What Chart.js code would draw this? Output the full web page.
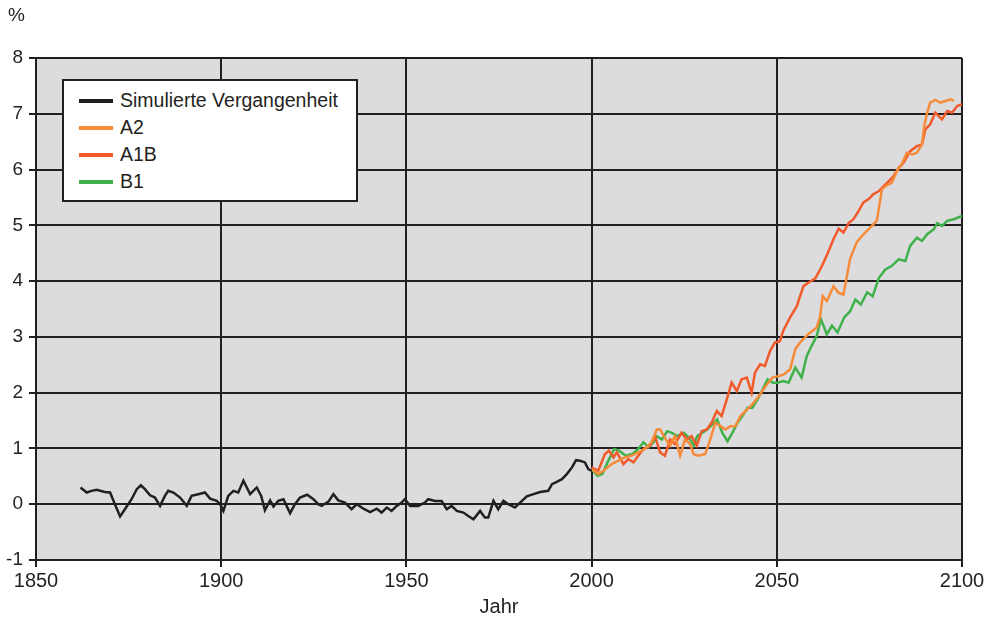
<!DOCTYPE html>
<html lang="de">
<head>
    <meta charset="UTF-8">
    <title>Simulierte Vergangenheit und Szenarien</title>
    <script src="https://cdn.jsdelivr.net/npm/chart.js"></script>
    <style>
        body { margin: 0; background: #fff; font-family: "Liberation Sans", Arial, sans-serif; }
        #wrap { position: relative; width: 991px; height: 622px; }
        #unit { position: absolute; left: 8px; top: 4px; font-size: 19px; color: #231f20; }
        #legend {
            position: absolute; left: 62px; top: 79px; width: 292px; height: 113px;
            background: #fff; border: 2px solid #231f20; padding-top: 6px; box-sizing: content-box;
        }
        .row { display: flex; align-items: center; height: 27px; font-size: 19.5px; color: #231f20; }
        .swatch { width: 34px; height: 4px; margin: 0 7px 0 15px; }
    </style>
</head>
<body>
<div id="wrap">
    <canvas id="chart" width="991" height="622"></canvas>
    <div id="unit">%</div>
    <div id="legend"></div>
</div>

<script>
    // Simulierte Vergangenheit (Jahr, %)
    const pastYears = [1862, 1863.7, 1865, 1866.4, 1868.6, 1870, 1871.3, 1872.7, 1874, 1875.8, 1877.2, 1878.3, 1879.4, 1880.8, 1882.1, 1883.5, 1884.8, 1885.7, 1887.1, 1888.9, 1890.7, 1892, 1893.8, 1895.6, 1897, 1898.8, 1899.7, 1900.6, 1901.9, 1903.3, 1904.6, 1906, 1907.8, 1909.6, 1910.8, 1911.8, 1913.2, 1914.1, 1915.4, 1916.8, 1918.6, 1919.9, 1921.3, 1923.2, 1924.9, 1926.2, 1927.1, 1929, 1930.3, 1931.6, 1933.4, 1935.2, 1936.6, 1938.4, 1940.2, 1942, 1943.3, 1944.7, 1946, 1947.4, 1948.7, 1949.6, 1951, 1953.2, 1955, 1955.9, 1957.7, 1959.5, 1960.9, 1962.2, 1963.6, 1965.4, 1966.7, 1968.1, 1969.9, 1971.2, 1972.1, 1973.5, 1974.8, 1976.2, 1977.5, 1979.3, 1980.7, 1982.5, 1984.3, 1986.1, 1988.3, 1989.3, 1990.6, 1992, 1993.3, 1994.7, 1995.8, 1996.9, 1998.2, 1999.1, 2000];
    const pastValues = [0.30, 0.21, 0.24, 0.26, 0.22, 0.21, 0.00, -0.22, -0.09, 0.09, 0.27, 0.34, 0.27, 0.16, 0.12, -0.03, 0.15, 0.24, 0.21, 0.12, -0.03, 0.15, 0.18, 0.21, 0.10, 0.06, 0.00, -0.12, 0.15, 0.24, 0.21, 0.42, 0.18, 0.30, 0.15, -0.11, 0.07, -0.04, 0.06, 0.09, -0.16, 0.00, 0.12, 0.17, 0.09, 0.00, -0.03, 0.05, 0.18, 0.07, 0.03, -0.09, 0.00, -0.08, -0.14, -0.08, -0.15, -0.06, -0.12, -0.03, 0.03, 0.09, -0.03, -0.03, 0.03, 0.09, 0.06, 0.06, -0.09, -0.03, -0.12, -0.15, -0.21, -0.27, -0.12, -0.24, -0.24, 0.06, -0.09, 0.06, 0.00, -0.06, 0.03, 0.14, 0.18, 0.22, 0.24, 0.36, 0.40, 0.45, 0.54, 0.66, 0.79, 0.78, 0.75, 0.63, 0.60];

    // Szenario A2
    const a2Years = [2000, 2001.8, 2003.2, 2005.4, 2007.2, 2009, 2010.8, 2012.6, 2014.4, 2016.2, 2017.6, 2018.5, 2019.8, 2021.2, 2022.5, 2023.9, 2025.2, 2026.6, 2027.5, 2028.8, 2030.7, 2032, 2033.4, 2034.8, 2036.1, 2037.5, 2038.8, 2040.2, 2042, 2043.4, 2045.2, 2047, 2048.8, 2050.6, 2052, 2053.6, 2055, 2056.3, 2058.5, 2060.8, 2061.7, 2062.4, 2063.5, 2065.3, 2066.7, 2068, 2069.8, 2071.6, 2073.4, 2075.2, 2077, 2078.4, 2079.7, 2081, 2082.4, 2083.7, 2085.1, 2086.5, 2087.8, 2089.2, 2089.8, 2090.6, 2091.4, 2092.8, 2094.1, 2095.5, 2096.9, 2097.8];
    const a2Values = [0.63, 0.54, 0.60, 0.72, 0.78, 0.84, 0.87, 0.93, 0.99, 1.11, 1.34, 1.34, 1.19, 1.05, 1.22, 0.87, 1.16, 1.08, 0.90, 0.87, 0.90, 1.16, 1.46, 1.40, 1.34, 1.40, 1.40, 1.58, 1.70, 1.79, 1.94, 2.12, 2.27, 2.30, 2.33, 2.42, 2.78, 2.90, 3.05, 3.17, 3.37, 3.73, 3.64, 3.91, 3.79, 3.76, 4.40, 4.70, 4.84, 4.96, 5.08, 5.65, 5.72, 5.76, 5.97, 6.09, 6.30, 6.27, 6.30, 6.45, 6.78, 7.02, 7.20, 7.25, 7.20, 7.23, 7.26, 7.23];

    // Szenario A1B
    const a1bYears = [2000, 2001.8, 2003.6, 2004.7, 2005.9, 2006.8, 2008.6, 2009.9, 2011.3, 2012.6, 2014, 2015.8, 2017.1, 2018.5, 2019.8, 2021.2, 2022.5, 2024.3, 2025.7, 2027, 2028.4, 2029.7, 2031.1, 2032.4, 2033.8, 2035.1, 2036.5, 2037.8, 2039.2, 2040.5, 2041.9, 2043.2, 2044.1, 2045.5, 2046.8, 2048.2, 2049.5, 2050.8, 2051.8, 2053.6, 2055.4, 2057.2, 2058.5, 2060.4, 2062.2, 2064, 2065.3, 2066.7, 2068, 2069.4, 2070.7, 2072.1, 2073.4, 2074.8, 2076.1, 2077.5, 2078.8, 2080.2, 2081.5, 2082.9, 2084.2, 2086, 2087.8, 2089.2, 2090.1, 2091.4, 2092.8, 2093.7, 2094.6, 2096, 2097.3, 2098.7, 2100];
    const a1bValues = [0.66, 0.60, 0.90, 0.96, 0.84, 0.93, 0.72, 0.81, 0.75, 0.87, 0.99, 1.05, 1.22, 0.93, 0.87, 1.16, 1.08, 1.28, 1.16, 1.22, 1.05, 1.31, 1.34, 1.46, 1.67, 1.58, 1.88, 2.18, 2.03, 2.24, 2.27, 2.00, 2.36, 2.51, 2.48, 2.75, 2.90, 2.92, 3.12, 3.35, 3.55, 3.91, 3.97, 4.05, 4.27, 4.54, 4.75, 4.94, 4.87, 5.04, 5.11, 5.26, 5.41, 5.47, 5.56, 5.61, 5.70, 5.79, 5.88, 6.03, 6.12, 6.33, 6.42, 6.45, 6.72, 6.81, 7.02, 6.96, 6.90, 7.05, 7.02, 7.14, 7.17];

    // Szenario B1
    const b1Years = [2000, 2001.6, 2002.9, 2004.3, 2006.1, 2007.4, 2009.2, 2011, 2012.6, 2014, 2015.4, 2016.7, 2017.6, 2019, 2020.4, 2021.7, 2023.1, 2024.9, 2026.3, 2027.6, 2028.5, 2029.9, 2031.2, 2032.6, 2033.9, 2035.3, 2036.7, 2038, 2039.4, 2040.7, 2042.1, 2043.4, 2044.8, 2046.2, 2047.5, 2048.9, 2050.2, 2051.8, 2053.2, 2055, 2056.7, 2058.1, 2059.4, 2060.8, 2061.9, 2063.5, 2064.9, 2066.4, 2068.2, 2069.8, 2071.2, 2072.7, 2074.4, 2075.9, 2077.5, 2079.3, 2081, 2082.9, 2084.7, 2086, 2087.8, 2089.2, 2090.6, 2092.4, 2093.3, 2094.6, 2096, 2097.8, 2100];
    const b1Values = [0.63, 0.51, 0.54, 0.75, 0.99, 0.96, 0.87, 0.90, 0.99, 1.11, 1.02, 1.11, 1.22, 1.16, 1.31, 1.28, 1.22, 1.28, 1.19, 1.05, 1.22, 1.28, 1.34, 1.43, 1.52, 1.28, 1.13, 1.28, 1.46, 1.58, 1.73, 1.73, 1.88, 2.06, 2.24, 2.18, 2.18, 2.21, 2.18, 2.45, 2.27, 2.66, 2.84, 3.02, 3.32, 3.05, 3.20, 3.08, 3.35, 3.46, 3.67, 3.58, 3.80, 3.73, 4.05, 4.21, 4.27, 4.39, 4.36, 4.63, 4.78, 4.72, 4.84, 4.93, 5.04, 4.99, 5.08, 5.11, 5.17];

    const seriesNames = ['Simulierte Vergangenheit', 'A2', 'A1B', 'B1'];
    const seriesColors = ['#231f20', '#f68b3a', '#f15a2b', '#3fb14b'];

    const ink = '#231f20';
    const fontFamily = '"Liberation Sans", Arial, sans-serif';

    function toPoints(xs, ys) {
        return xs.map((x, i) => ({ x: x, y: ys[i] }));
    }

    // grauer Hintergrund nur im Plotbereich
    const plotBackground = {
        id: 'plotBackground',
        beforeDraw(chart) {
            const a = chart.chartArea;
            const ctx = chart.ctx;
            ctx.save();
            ctx.fillStyle = '#dcdcde';
            ctx.fillRect(a.left, a.top, a.right - a.left, a.bottom - a.top);
            ctx.restore();
        }
    };

    const allSeries = [
        toPoints(pastYears, pastValues),
        toPoints(a2Years, a2Values),
        toPoints(a1bYears, a1bValues),
        toPoints(b1Years, b1Values)
    ];

    new Chart(document.getElementById('chart'), {
        type: 'line',
        data: {
            datasets: allSeries.map((pts, i) => ({
                label: seriesNames[i],
                data: pts,
                borderColor: seriesColors[i],
                borderWidth: 2.5,
                pointRadius: 0,
                tension: 0,
                fill: false
            }))
        },
        options: {
            responsive: false,
            animation: false,
            devicePixelRatio: 1,
            layout: { padding: { top: 58, right: 29, left: 0, bottom: 0 } },
            plugins: { legend: { display: false }, tooltip: { enabled: false } },
            scales: {
                x: {
                    type: 'linear',
                    min: 1850,
                    max: 2100,
                    afterFit: s => { s.height = 62; },
                    ticks: {
                        stepSize: 50,
                        color: ink,
                        padding: 2,
                        font: { size: 20, family: fontFamily },
                        callback: v => String(v)
                    },
                    grid: { color: ink, lineWidth: 2, tickLength: 7 },
                    border: { color: ink, width: 2 },
                    title: {
                        display: true,
                        text: 'Jahr',
                        color: ink,
                        font: { size: 20, family: fontFamily },
                        padding: { top: 0, bottom: 3 }
                    }
                },
                y: {
                    min: -1,
                    max: 8,
                    afterFit: s => { s.width = 36; },
                    ticks: {
                        stepSize: 1,
                        color: ink,
                        padding: 6,
                        font: { size: 19, family: fontFamily }
                    },
                    grid: { color: ink, lineWidth: 2, tickLength: 7 },
                    border: { color: ink, width: 2 }
                }
            }
        },
        plugins: [plotBackground]
    });

    // Legende im Plotbereich
    document.getElementById('legend').innerHTML = seriesNames.map((name, i) => `
        <div class="row"><span class="swatch" style="background:${seriesColors[i]}"></span>${name}</div>
    `).join('');
</script>
</body>
</html>
